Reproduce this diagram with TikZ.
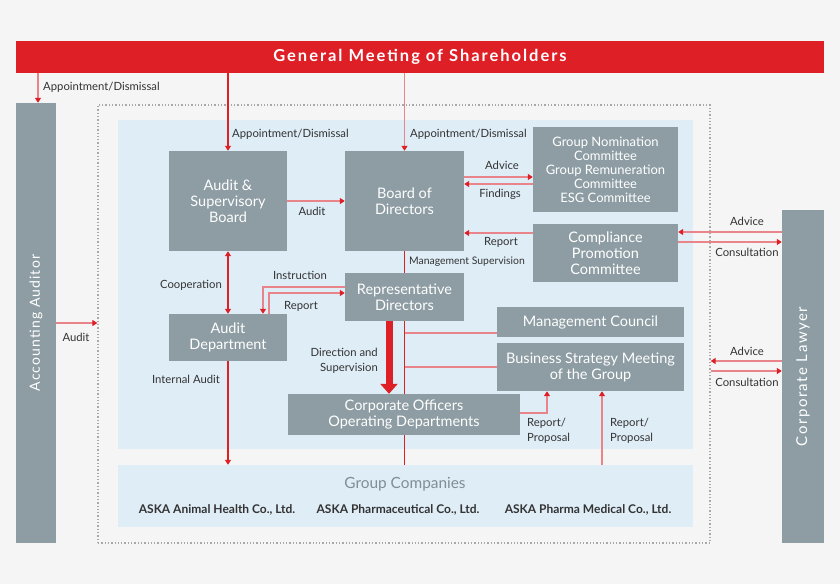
\documentclass[tikz,border=0pt]{standalone}
\usepackage{fontspec}
\setmainfont{Lato}
\usetikzlibrary{arrows.meta,calc}
\definecolor{bgc}{HTML}{F5F5F5}
\definecolor{redc}{HTML}{DE1F26}
\definecolor{pinkc}{HTML}{E8848A}
\definecolor{boxc}{HTML}{8D9DA3}
\definecolor{panelc}{HTML}{DFEDF7}
\definecolor{txtc}{HTML}{333333}
\definecolor{grpc}{HTML}{7F8E95}
\definecolor{dotc}{HTML}{A8A8A8}
\tikzset{
  box/.style={fill=boxc, text=white, inner sep=0pt, align=center, font=\fontsize{14.5}{16}\selectfont},
  lbl/.style={text=txtc, inner sep=0pt, font=\fontsize{11.3}{15}\selectfont},
  tip/.style={-{Triangle[width=6pt,length=5pt,color=redc]}},
  dk/.style={draw=redc, line width=1.2pt},
  pk/.style={draw=pinkc, line width=1.6pt},
  comp/.style={text=txtc, font=\bfseries\fontsize{12}{14}\selectfont},
}
\begin{document}
\begin{tikzpicture}[x=1pt,y=-1pt]
\useasboundingbox (0,0) rectangle (840,584);
\fill[bgc] (0,0) rectangle (840,584);
% containers
\node[draw=dotc, dotted, line width=1.3pt, minimum width=612pt, minimum height=438pt, inner sep=0pt] (dotbox) at (404,324) {};
\node[fill=panelc, minimum width=575pt, minimum height=329pt, inner sep=0pt] (panel) at (405.5,284.5) {};
\node[fill=panelc, minimum width=575pt, minimum height=62pt, inner sep=0pt] (group) at (405.5,496) {};
\node[text=grpc, font=\fontsize{15.4}{17}\selectfont] (grpt) at (405,484) {Group Companies};
\node[comp] (c1) at (217,510) {ASKA Animal Health Co., Ltd.};
\node[comp] (c2) at (398,510) {ASKA Pharmaceutical Co., Ltd.};
\node[comp] (c3) at (588,510) {ASKA Pharma Medical Co., Ltd.};
% banner and side boxes
\node[fill=redc, text=white, minimum width=808pt, minimum height=32pt, inner sep=0pt,
  font=\bfseries\fontsize{16.5}{18}\selectfont\addfontfeature{LetterSpace=12}] (banner) at (420,57) {General Meeting of Shareholders};
\node[fill=boxc, minimum width=40pt, minimum height=440pt, inner sep=0pt] (auditor) at (36,323) {};
\node[text=white, rotate=90, font=\fontsize{14}{16}\selectfont\addfontfeature{LetterSpace=8}] (audt) at (36,323) {Accounting Auditor};
\node[fill=boxc, minimum width=42pt, minimum height=333pt, inner sep=0pt] (lawyer) at (803,376.5) {};
\node[text=white, rotate=90, font=\fontsize{15}{17}\selectfont\addfontfeature{LetterSpace=10}] (lawt) at (803,376.5) {Corporate Lawyer};
% inner boxes
\node[box, minimum width=118pt, minimum height=100pt] (asb) at (228,201) {Audit \&\\Supervisory\\Board};
\node[box, minimum width=119pt, minimum height=100pt] (bod) at (404.5,201) {Board of\\Directors};
\node[box, minimum width=145pt, minimum height=85pt, font=\fontsize{13}{14}\selectfont] (comm) at (605.5,169.5) {Group Nomination\\Committee\\Group Remuneration\\Committee\\ESG Committee};
\node[box, minimum width=145pt, minimum height=58pt] (comp) at (605.5,253) {Compliance\\Promotion\\Committee};
\node[box, minimum width=119pt, minimum height=48pt] (rep) at (404.5,297) {Representative\\Directors};
\node[box, minimum width=118pt, minimum height=47pt] (adept) at (228,337.5) {Audit\\Department};
\node[box, minimum width=187pt, minimum height=30pt] (mc) at (590.5,322) {Management Council};
\node[box, minimum width=187pt, minimum height=48pt] (bsm) at (590.5,367) {Business Strategy Meeting\\of the Group};
\node[box, minimum width=232pt, minimum height=41pt] (coo) at (404,414.5) {Corporate Officers\\Operating Departments};
% connectors
\draw[pk, tip] (banner.south -| 38,0) -- (auditor.north -| 38,0);
\draw[dk, tip] (banner.south -| asb) -- (asb.north);
\draw[pk, tip] (banner.south -| bod) -- (bod.north);
\draw[pk, tip] (asb.east) -- (bod.west);
\draw[pk, tip] (bod.east |- 0,177) -- (comm.west |- 0,177);
\draw[pk, tip] (comm.west |- 0,184) -- (bod.east |- 0,184);
\draw[pk, tip] (comp.west |- 0,233) -- (bod.east |- 0,233);
\draw[dk] (bod.south) -- (rep.north);
\draw[dk, {Triangle[width=6pt,length=5pt,color=redc]}-{Triangle[width=6pt,length=5pt,color=redc]}] (asb.south) -- (adept.north);
\draw[pk, tip] (rep.west |- 0,287) -| (adept.north -| 263,0);
\draw[pk, tip] (adept.north -| 269,0) |- (rep.west |- 0,293);
\draw[dk, tip] (adept.south) -- (group.north -| adept.south);
\draw[draw=redc, line width=7pt, -{Triangle[width=17pt,length=10pt,color=redc]}] (rep.south -| 389,0) -- (coo.north -| 389,0);
\draw[dk] (rep.south) -- (coo.north -| rep.south);
\draw[dk] (coo.south -| rep.south) -- (group.north -| rep.south);
\draw[pk] (rep.south |- 0,333) -- (mc.west |- 0,333);
\draw[pk] (rep.south |- bsm.west) -- (bsm.west);
\draw[pk, tip] (coo.east |- 0,413) -| (bsm.south -| 547,0);
\draw[pk, tip] (group.north -| 602,0) -- (bsm.south -| 602,0);
\draw[pk, tip] (auditor.east |- 0,323) -- (dotbox.west |- 0,323);
\draw[pk, tip] (lawyer.west |- 0,232) -- (comp.east |- 0,232);
\draw[pk, tip] (comp.east |- 0,242) -- (lawyer.west |- 0,242);
\draw[pk, tip] (lawyer.west |- 0,361) -- (dotbox.east |- 0,361);
\draw[pk, tip] (dotbox.east |- 0,371) -- (lawyer.west |- 0,371);
% labels
\node[lbl, anchor=west] (l1) at (43,87) {Appointment/Dismissal};
\node[lbl, anchor=west] (l2) at (232,134) {Appointment/Dismissal};
\node[lbl, anchor=west] (l3) at (410,134) {Appointment/Dismissal};
\node[lbl] (l4) at (312,211) {Audit};
\node[lbl] (l5) at (502,165) {Advice};
\node[lbl] (l6) at (500,194) {Findings};
\node[lbl] (l7) at (501,242) {Report};
\node[lbl, anchor=west, font=\fontsize{10.4}{14}\selectfont] (l8) at (409,262) {Management Supervision};
\node[lbl] (l9) at (191,285) {Cooperation};
\node[lbl] (l10) at (300,275) {Instruction};
\node[lbl] (l11) at (301,306) {Report};
\node[lbl] (l12) at (186,379) {Internal Audit};
\node[lbl, anchor=east, align=right] (l13) at (378,361) {Direction and\\Supervision};
\node[lbl, anchor=west, align=left] (l14) at (527,431) {Report/\\Proposal};
\node[lbl, anchor=west, align=left] (l15) at (610,431) {Report/\\Proposal};
\node[lbl] (l16) at (76,337) {Audit};
\node[lbl] (l17) at (747,221) {Advice};
\node[lbl] (l18) at (747,252) {Consultation};
\node[lbl] (l19) at (747,351) {Advice};
\node[lbl] (l20) at (747,382) {Consultation};
\end{tikzpicture}
\end{document}
